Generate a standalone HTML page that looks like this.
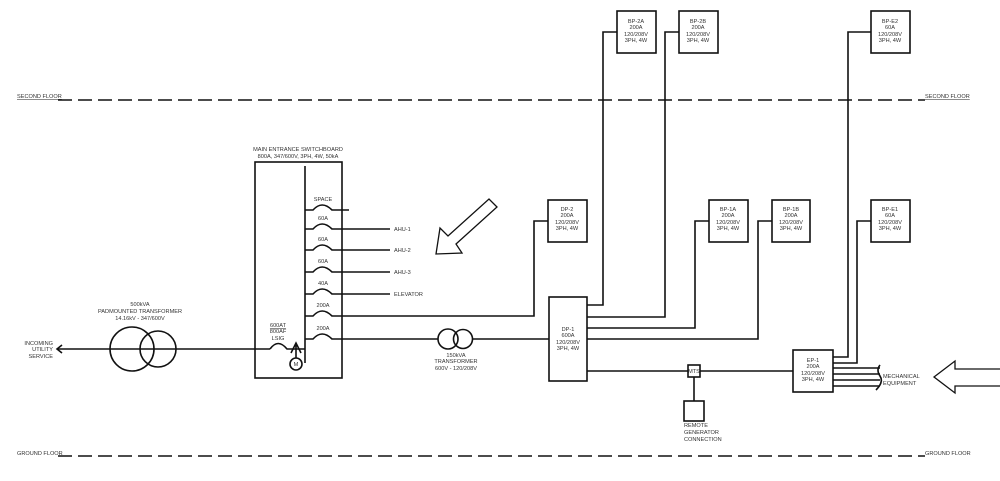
<!DOCTYPE html>
<html><head><meta charset="utf-8"><style>
html,body{margin:0;padding:0;background:#fff;}
svg{display:block;}
text{font-family:"Liberation Sans",sans-serif;font-size:5.6px;fill:#333;}
</style></head><body>
<svg width="1000" height="481" viewBox="0 0 1000 481" xmlns="http://www.w3.org/2000/svg">
<g stroke="#111" stroke-width="1.6" fill="none">
<!-- floor lines -->
<line x1="58" y1="100" x2="925" y2="100" stroke-dasharray="14,6"/>
<line x1="58" y1="456" x2="925" y2="456" stroke-dasharray="14,6"/>
<!-- utility line -->
<line x1="57" y1="349" x2="270" y2="349"/>
<polyline points="62,345 57,349 62,353"/>
<circle cx="132" cy="349" r="22"/>
<circle cx="158" cy="349" r="18"/>
<!-- switchboard -->
<rect x="255" y="162" width="87" height="216"/>
<line x1="305" y1="166" x2="305" y2="363"/>
<path d="M270,349 Q278,338 287,349 L305,349"/>
<path d="M291,353 L296,343 L301,353 M296,343 L296,358"/>
<circle cx="296" cy="364" r="6"/>
<!-- breakers -->
<path d="M305,210 L313,210 Q322,200 332,210 L349,210"/>
<path d="M305,229 L313,229 Q322,219 332,229 L390,229"/>
<path d="M305,250 L313,250 Q322,240 332,250 L390,250"/>
<path d="M305,272 L313,272 Q322,262 332,272 L390,272"/>
<path d="M305,294 L313,294 Q322,284 332,294 L390,294"/>
<path d="M305,316 L313,316 Q322,306 332,316 L534,316 L534,221 L548,221"/>
<path d="M305,339 L313,339 Q322,329 332,339 L438,339"/>
<circle cx="448" cy="339" r="10"/>
<circle cx="463" cy="339" r="9.5"/>
<line x1="472" y1="339" x2="549" y2="339"/>
<!-- boxes -->
<rect x="548" y="200" width="39" height="42"/>
<rect x="549" y="297" width="38" height="84"/>
<rect x="617" y="11" width="39" height="42"/>
<rect x="679" y="11" width="39" height="42"/>
<rect x="709" y="200" width="39" height="42"/>
<rect x="772" y="200" width="38" height="42"/>
<rect x="871" y="11" width="39" height="42"/>
<rect x="871" y="200" width="39" height="42"/>
<rect x="793" y="350" width="40" height="42"/>
<!-- DP-1 feeders -->
<polyline points="587,305 603,305 603,32 617,32"/>
<polyline points="587,317 665,317 665,32 679,32"/>
<polyline points="587,328 695,328 695,221 709,221"/>
<polyline points="587,339 758,339 758,221 772,221"/>
<line x1="587" y1="371" x2="688" y2="371"/>
<rect x="688" y="365" width="12" height="12"/>
<line x1="700" y1="371" x2="793" y2="371"/>
<line x1="694" y1="377" x2="694" y2="401"/>
<rect x="684" y="401" width="20" height="20"/>
<!-- EP-1 feeders -->
<polyline points="833,357 848,357 848,32 871,32"/>
<polyline points="833,363 857,363 857,221 871,221"/>
<line x1="833" y1="368" x2="880" y2="368"/>
<line x1="833" y1="374" x2="880" y2="374"/>
<line x1="833" y1="380" x2="880" y2="380"/>
<line x1="833" y1="386" x2="880" y2="386"/>
<path d="M880,365 Q876,370 880,376 Q884,382 876,390"/>
<!-- arrows -->
<polygon points="436,254 440,228 448,236 489,199 497,207 456,244 462,253" stroke-width="1.3"/>
<polygon points="934,377 955,361 955,369 1001,369 1001,386 955,386 955,393" stroke-width="1.3"/>
</g>
<g>
<text x="17" y="98" text-decoration="underline">SECOND FLOOR</text>
<text x="925" y="98" text-decoration="underline">SECOND FLOOR</text>
<text x="17" y="455">GROUND FLOOR</text>
<text x="925" y="455">GROUND FLOOR</text>
<g text-anchor="end"><text x="53" y="345">INCOMING</text><text x="53" y="351">UTILITY</text><text x="53" y="358">SERVICE</text></g>
<g text-anchor="middle">
<text x="140" y="306">500kVA</text><text x="140" y="313">PADMOUNTED TRANSFORMER</text><text x="140" y="320">14.16kV - 347/600V</text>
<text x="298" y="151">MAIN ENTRANCE SWITCHBOARD</text><text x="298" y="158">800A, 347/600V, 3PH, 4W, 50kA</text>
<text x="323" y="201">SPACE</text><text x="323" y="220">60A</text><text x="323" y="241">60A</text><text x="323" y="263">60A</text><text x="323" y="285">40A</text><text x="323" y="307">200A</text><text x="323" y="330">200A</text>
<text x="278" y="327" text-decoration="underline">600AT</text><text x="278" y="333">800AF</text><text x="278" y="340">LSIG</text>
<text x="296" y="366" font-size="5">M</text>
<text x="456" y="357">150kVA</text><text x="456" y="363">TRANSFORMER</text><text x="456" y="370">600V - 120/208V</text>
<text x="567" y="211">DP-2</text><text x="567" y="217">200A</text><text x="567" y="224">120/208V</text><text x="567" y="230">3PH, 4W</text>
<text x="568" y="331">DP-1</text><text x="568" y="337">600A</text><text x="568" y="344">120/208V</text><text x="568" y="350">3PH, 4W</text>
<text x="636" y="23">BP-2A</text><text x="636" y="29">200A</text><text x="636" y="36">120/208V</text><text x="636" y="42">3PH, 4W</text>
<text x="698" y="23">BP-2B</text><text x="698" y="29">200A</text><text x="698" y="36">120/208V</text><text x="698" y="42">3PH, 4W</text>
<text x="728" y="211">BP-1A</text><text x="728" y="217">200A</text><text x="728" y="224">120/208V</text><text x="728" y="230">3PH, 4W</text>
<text x="791" y="211">BP-1B</text><text x="791" y="217">200A</text><text x="791" y="224">120/208V</text><text x="791" y="230">3PH, 4W</text>
<text x="890" y="23">BP-E2</text><text x="890" y="29">60A</text><text x="890" y="36">120/208V</text><text x="890" y="42">3PH, 4W</text>
<text x="890" y="211">BP-E1</text><text x="890" y="217">60A</text><text x="890" y="224">120/208V</text><text x="890" y="230">3PH, 4W</text>
<text x="813" y="362">EP-1</text><text x="813" y="368">200A</text><text x="813" y="375">120/208V</text><text x="813" y="381">3PH, 4W</text>
<text x="694" y="373" font-size="5">MTS</text>
</g>
<text x="394" y="231">AHU-1</text><text x="394" y="252">AHU-2</text><text x="394" y="274">AHU-3</text><text x="394" y="296">ELEVATOR</text>
<text x="883" y="378">MECHANICAL</text><text x="883" y="385">EQUIPMENT</text>
<text x="684" y="427">REMOTE</text><text x="684" y="434">GENERATOR</text><text x="684" y="441">CONNECTION</text>
</g>
</svg>
</body></html>
